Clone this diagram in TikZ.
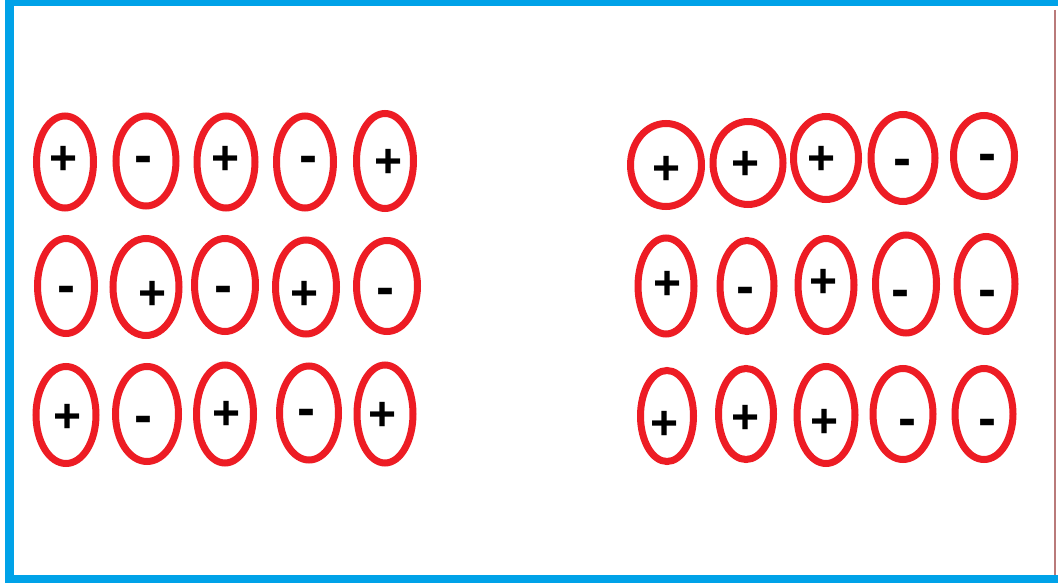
\documentclass[tikz,border=0pt]{standalone}
\usepackage{fontspec}
\setmainfont{Liberation Sans}
\usetikzlibrary{shapes.geometric}
\definecolor{paintred}{RGB}{237,28,36}
\definecolor{paintblue}{RGB}{0,162,232}
\definecolor{edgerose}{RGB}{185,122,122}
\tikzset{
  ell/.style={ellipse, draw=paintred, line width=7pt, inner sep=0pt},
  plussign/.style={inner sep=0pt, font=\fontsize{48}{48}\selectfont\bfseries, text height=35.5pt, text depth=0pt},
  minussign/.style={inner sep=0pt, font=\fontsize{54}{54}\selectfont\bfseries, text height=29pt, text depth=0pt},
  frame/.style={draw=paintblue, line width=8.5pt}
}
% #1,#2 ellipse centre; #3,#4 outer size; #5,#6 sign position; #7 sign style; #8 sign; #9 name
\newcommand\chargecell[9]{%
  \node[ell, minimum width={#3pt-7pt}, minimum height={#4pt-7pt}] (#9e) at (#1,#2) {};
  \node[#7] (#9s) at (#5,#6) {#8};
}
\begin{document}
\begin{tikzpicture}[x=1pt,y=-1pt]
\useasboundingbox (0,0) rectangle (1058,583);
\fill[white] (0,0) rectangle (1058,583);
% frame
\coordinate (tl) at (9.5,1.5);
\coordinate (tr) at (1058,1.5);
\coordinate (bl) at (9.5,579);
\coordinate (br) at (1058,579);
\coordinate (bl0) at (5,579);
\coordinate (rt) at (1055,10);
\coordinate (rb) at (1055,575);
\draw[frame] (tr) -- (5.25,1.5);
\draw[frame] (tl) -- (bl);
\draw[frame] (bl0) -- (br);
\draw[edgerose, line width=1.5pt] (rt) -- (rb);
% left group
\chargecell{65}{162}{64}{99}{64}{157}{plussign}{+}{a11}
\chargecell{146}{161}{67}{97}{143}{159}{minussign}{-}{a12}
\chargecell{226}{162}{65}{99}{226}{157}{plussign}{+}{a13}
\chargecell{305}{162}{64}{99}{308}{159}{minussign}{-}{a14}
\chargecell{385}{161}{64}{102}{389}{160}{plussign}{+}{a15}
\chargecell{66}{286}{64}{102}{66}{289}{minussign}{-}{a21}
\chargecell{146}{287}{73}{104}{153}{292}{plussign}{+}{a22}
\chargecell{225}{285}{68}{100}{223}{289}{minussign}{-}{a23}
\chargecell{306}{287}{68}{101}{305}{292}{plussign}{+}{a24}
\chargecell{387}{286}{68}{98}{385}{291}{minussign}{-}{a25}
\chargecell{66}{415}{67}{104}{68}{415}{plussign}{+}{a31}
\chargecell{147}{414}{70}{102}{143}{419}{minussign}{-}{a32}
\chargecell{225}{414}{64}{105}{227}{412}{plussign}{+}{a33}
\chargecell{309}{413}{66}{101}{306}{412}{minussign}{-}{a34}
\chargecell{385}{414}{63}{105}{383}{413}{plussign}{+}{a35}
% right group
\chargecell{666}{165}{78}{90}{667}{167}{plussign}{+}{b11}
\chargecell{748}{163}{77}{90}{746}{162}{plussign}{+}{b12}
\chargecell{826}{158}{72}{90}{822}{157}{plussign}{+}{b13}
\chargecell{903}{158}{71}{94}{902}{162}{minussign}{-}{b14}
\chargecell{984}{156}{68}{88}{987}{157}{minussign}{-}{b15}
\chargecell{666}{286}{63}{103}{668}{282}{plussign}{+}{b21}
\chargecell{747}{286}{61}{98}{745}{290}{minussign}{-}{b22}
\chargecell{826}{285}{63}{100}{824}{280}{plussign}{+}{b23}
\chargecell{906}{284}{68}{105}{900}{293}{minussign}{-}{b24}
\chargecell{986}{284}{65}{102}{987}{293}{minussign}{-}{b25}
\chargecell{667}{416}{60}{98}{665}{422}{plussign}{+}{b31}
\chargecell{746}{414}{62}{98}{746}{416}{plussign}{+}{b32}
\chargecell{826}{415}{65}{104}{825}{420}{plussign}{+}{b33}
\chargecell{903}{414}{67}{98}{907}{422}{minussign}{-}{b34}
\chargecell{984}{414}{65}{98}{987}{422}{minussign}{-}{b35}
\end{tikzpicture}
\end{document}
